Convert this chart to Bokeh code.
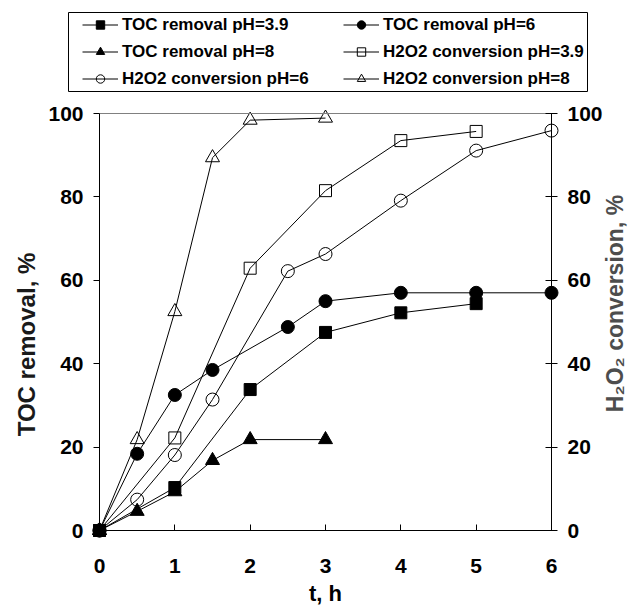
import math
from bokeh.plotting import figure
from bokeh.models import (Range1d, LinearAxis, Legend, LegendItem, FixedTicker,
                          Label, BoxAnnotation)
from bokeh.embed import file_html
from bokeh.resources import INLINE

# ---- data ----
t_toc39 = [0, 1, 2, 3, 4, 5]
toc39 = [0, 10.3, 33.8, 47.5, 52.2, 54.4]
t_toc6 = [0, 0.5, 1, 1.5, 2.5, 3, 4, 5, 6]
toc6 = [0, 18.4, 32.5, 38.5, 48.8, 55.0, 57.0, 57.0, 57.0]
t_toc8 = [0, 0.5, 1, 1.5, 2, 3]
toc8 = [0, 4.6, 9.3, 16.8, 21.8, 21.8]
t_h39 = [0, 1, 2, 3, 4, 5]
h39 = [0, 22.2, 62.9, 81.5, 93.5, 95.7]
t_h6 = [0, 0.5, 1, 1.5, 2.5, 3, 4, 5, 6]
h6 = [0, 7.4, 18.1, 31.4, 62.2, 66.3, 79.1, 91.1, 95.9]
t_h8 = [0, 0.5, 1, 1.5, 2, 3]
h8 = [0, 21.8, 52.5, 89.4, 98.4, 98.9]

x_ticks = [0, 1, 2, 3, 4, 5, 6]
y_ticks = [0, 20, 40, 60, 80, 100]
x_bounds = (0, 6)
y_bounds = (0, 100)

FONT = "Liberation Sans"

# ---- layout (pixels) ----
W, H = 628, 613
X0PX, X6PX = 99, 551       # pixel of t=0 and t=6
Y0PX, Y100PX = 530, 113    # pixel of 0 % and 100 %
sx = (X6PX - X0PX) / (x_bounds[1] - x_bounds[0])
sy = (Y0PX - Y100PX) / (y_bounds[1] - y_bounds[0])

def px2x(px):
    return x_bounds[0] + (px - X0PX) / sx

def px2y(py):
    return y_bounds[0] + (Y0PX - py) / sy

p = figure(width=W, height=H, output_backend="svg", toolbar_location=None,
           x_range=Range1d(px2x(0), px2x(W)), y_range=Range1d(px2y(H), px2y(0)),
           min_border=0, x_axis_location=None, y_axis_location=None)
p.title.visible = False
p.extra_y_ranges = {"h2o2": Range1d(px2y(H), px2y(0))}
p.xgrid.visible = False
p.ygrid.visible = False
p.outline_line_color = None
p.background_fill_color = "white"
p.border_fill_color = "white"

xax = LinearAxis(fixed_location=y_bounds[0], bounds=x_bounds, axis_label="t, h")
yax = LinearAxis(fixed_location=x_bounds[0], bounds=y_bounds)
ax2 = LinearAxis(fixed_location=x_bounds[1], bounds=y_bounds, y_range_name="h2o2")
topax = LinearAxis(fixed_location=y_bounds[1], bounds=x_bounds,
                   ticker=FixedTicker(ticks=[]), axis_line_color="#808080")
p.add_layout(xax, "below")
p.add_layout(yax, "left")
p.add_layout(ax2, "right")
p.add_layout(topax, "above")

for ax in [xax, yax, ax2]:
    ax.major_label_text_font = FONT
    ax.major_label_text_font_style = "bold"
    ax.major_label_text_font_size = "21px"
    ax.major_label_text_color = "black"
    ax.axis_line_color = "black"
    ax.major_tick_line_color = "black"
    ax.minor_tick_line_color = None

xax.ticker = FixedTicker(ticks=x_ticks)
xax.major_tick_in = 6
xax.major_tick_out = 0
xax.major_label_standoff = 28
xax.axis_label_standoff = 5
xax.axis_label_text_font = FONT
xax.axis_label_text_font_style = "bold"
xax.axis_label_text_font_size = "22px"
xax.axis_label_text_color = "black"

yax.ticker = FixedTicker(ticks=y_ticks)
yax.major_tick_in = 0
yax.major_tick_out = 6
yax.major_label_standoff = 10

ax2.ticker = FixedTicker(ticks=y_ticks)
ax2.major_tick_in = 6
ax2.major_tick_out = 6
ax2.major_label_standoff = 10

# vertical axis titles
p.add_layout(Label(x=px2x(26), y=px2y(344), text="TOC removal, %", angle=math.pi / 2,
                   text_align="center", text_baseline="middle", text_font=FONT,
                   text_font_style="bold", text_font_size="24px", text_color="#1a1a1a"))
p.add_layout(Label(x=px2x(614), y=px2y(303), text="H\u2082O\u2082 conversion, %",
                   angle=math.pi / 2, text_align="center", text_baseline="middle",
                   text_font=FONT, text_font_style="bold", text_font_size="23px",
                   text_color="#4d4d4d"))

def series(x, y, marker, fill, size, rng=None):
    kw = {} if rng is None else {"y_range_name": rng}
    ln = p.line(x, y, line_color="black", line_width=1, **kw)
    sc = p.scatter(x, y, marker=marker, size=size, fill_color=fill,
                   line_color="black", line_width=1, **kw)
    return [ln, sc]

r4 = series(t_h39, h39, "square", None, 12, "h2o2")
r5 = series(t_h6, h6, "circle", None, 13, "h2o2")
r6 = series(t_h8, h8, "triangle", None, 14, "h2o2")
r1 = series(t_toc39, toc39, "square", "black", 12)
r2 = series(t_toc6, toc6, "circle", "black", 13)
r3 = series(t_toc8, toc8, "triangle", "black", 14)

# legend frame
p.add_layout(BoxAnnotation(left=px2x(68), right=px2x(587), top=px2y(12), bottom=px2y(91),
                           fill_color="white", fill_alpha=1, line_color="black",
                           line_alpha=1, line_width=1))

leg_style = dict(label_text_font=FONT, label_text_font_style="bold",
                 label_text_font_size="17px", label_text_color="black",
                 glyph_width=36, glyph_height=21, label_height=20,
                 label_standoff=4, spacing=6, padding=0, margin=0,
                 border_line_color=None, background_fill_alpha=0)
legA = Legend(items=[LegendItem(label="TOC removal pH=3.9", renderers=r1),
                     LegendItem(label="TOC removal pH=8", renderers=r3),
                     LegendItem(label="H2O2 conversion pH=6", renderers=r5)],
              location=(82, H - 89), **leg_style)
legB = Legend(items=[LegendItem(label="TOC removal pH=6", renderers=r2),
                     LegendItem(label="H2O2 conversion pH=3.9", renderers=r4),
                     LegendItem(label="H2O2 conversion pH=8", renderers=r6)],
              location=(343, H - 89), **leg_style)
p.add_layout(legA, "center")
p.add_layout(legB, "center")

open("out.html", "w").write(file_html(p, INLINE))
